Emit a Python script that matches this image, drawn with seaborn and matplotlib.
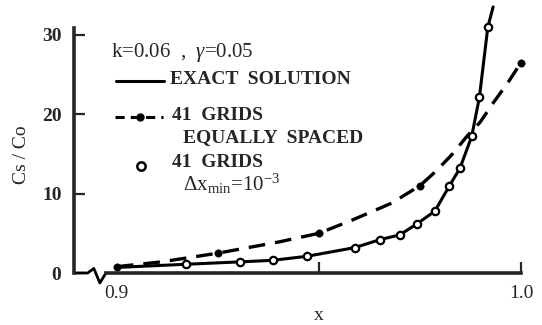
import numpy as np
import pandas as pd
import matplotlib
matplotlib.use("Agg")
import matplotlib.pyplot as plt
import matplotlib.transforms as mtransforms
from matplotlib.lines import Line2D
import seaborn as sns

# exact solution curve
exact_x = [0.900, 0.9171, 0.9304, 0.9386, 0.9470, 0.9589, 0.9651, 0.9700,
           0.9743, 0.9787, 0.9822, 0.9849, 0.9878, 0.9897, 0.9918, 0.9931]
exact_y = [0.7, 1.1, 1.4, 1.6, 2.1, 3.2, 4.2, 4.8,
           6.2, 7.8, 10.9, 13.2, 17.2, 22.1, 31.0, 33.5]

# 41 grids, equally spaced (dashed curve + marked points)
equal_x = [0.900, 0.911, 0.925, 0.940, 0.950, 0.9584, 0.968, 0.975,
           0.9787, 0.9829, 0.9866, 0.9899, 0.9931, 0.9968, 1.000]
equal_y = [0.8, 1.4, 2.5, 3.9, 5.0, 6.7, 8.8, 11.0,
           12.7, 14.9, 17.2, 19.0, 21.4, 24.0, 26.5]
equal_pts_x = [0.900, 0.925, 0.950, 0.975, 1.000]
equal_pts_y = [0.8, 2.5, 5.0, 11.0, 26.5]

# 41 grids, stretched (open circles)
stretch_x = [0.9171, 0.9304, 0.9386, 0.9470, 0.9589, 0.9651, 0.9700,
             0.9743, 0.9787, 0.9822, 0.9849, 0.9878, 0.9897, 0.9918]
stretch_y = [1.1, 1.4, 1.6, 2.1, 3.2, 4.2, 4.8,
             6.2, 7.8, 10.9, 13.2, 17.2, 22.1, 31.0]

y_ticks = [0, 10, 20, 30]
x_ticks = [0.9, 0.95, 1.0]
x_ticklabels = ["0.9", "", "1.0"]

sns.set_style("ticks")
plt.rcParams["font.family"] = ["Liberation Serif", "DejaVu Serif"]
plt.rcParams["mathtext.fontset"] = "custom"
plt.rcParams["mathtext.rm"] = "Liberation Serif"
plt.rcParams["mathtext.it"] = "Liberation Serif:italic"

W, H = 542, 325
fig = plt.figure(figsize=(W / 100, H / 100), dpi=100)


def fp(x, y):
    return x / W, 1 - y / H


ax = fig.add_axes([74 / W, 1 - 273 / H, (521 - 74) / W, 270 / H])

exact = pd.DataFrame({"x": exact_x, "y": exact_y})
equal = pd.DataFrame({"x": equal_x, "y": equal_y})
equal_pts = pd.DataFrame({"x": equal_pts_x, "y": equal_pts_y})
stretch = pd.DataFrame({"x": stretch_x, "y": stretch_y})

sns.lineplot(data=exact, x="x", y="y", ax=ax, color="black", lw=2.2,
             sort=False, estimator=None, clip_on=False, zorder=3)
sns.lineplot(data=equal, x="x", y="y", ax=ax, color="black", lw=2.4,
             sort=False, estimator=None, linestyle=(0, (5, 3)), zorder=2)
sns.scatterplot(data=equal_pts, x="x", y="y", ax=ax, color="black", s=28,
                edgecolor="black", zorder=4, clip_on=False)
sns.scatterplot(data=stretch, x="x", y="y", ax=ax, color="white", s=28,
                edgecolor="black", linewidth=1.6, zorder=5, clip_on=False)

ax.set_xlim(0.8894, 1.0)
ax.set_ylim(0, 34)
ax.set_xticks(x_ticks)
ax.set_xticklabels(x_ticklabels)
ax.set_yticks(y_ticks)
ax.tick_params(direction="in", length=8, width=1.6, labelsize=14, pad=9)
for lab in ax.get_yticklabels():
    lab.set_fontweight("bold")
ax.xaxis.get_major_ticks()[0].tick1line.set_visible(False)

sns.despine(ax=ax)
ax.spines["left"].set_linewidth(2.6)
ax.spines["bottom"].set_linewidth(2.6)
ax.spines["left"].set_bounds(0, 30.9)
ax.spines["bottom"].set_bounds(0.8973, 1.0)
ax.set_xlabel("")
ax.set_ylabel("")

# axis break zigzag
trans = mtransforms.blended_transform_factory(ax.transData, ax.transAxes)
ax.add_line(Line2D([0.8894, 0.8928, 0.8943, 0.8958, 0.8973],
                   [0, 0, 0.017, -0.037, 0], transform=trans,
                   color="black", lw=2.0, clip_on=False))

fig.text(*fp(319, 316), "x", ha="center", va="center", fontsize=14)
fig.text(*fp(22, 155), "Cs / Co", ha="center", va="center",
         rotation=90, fontsize=14)

# legend block
fig.text(*fp(111, 53), "k=0.06  ,  $\\gamma$=0.05", ha="left", va="center",
         fontsize=15)
fig.add_artist(Line2D([116 / W, 164 / W], [fp(0, 81)[1]] * 2,
                      color="black", lw=2.2))
fig.text(*fp(170, 80), "EXACT  SOLUTION", ha="left", va="center",
         fontsize=14, fontweight="bold")
fig.add_artist(Line2D([115 / W, 163 / W], [fp(0, 117)[1]] * 2,
                      color="black", lw=2.2, linestyle=(0, (3, 2))))
fig.add_artist(Line2D([140 / W], [fp(0, 117)[1]], color="black",
                      marker="o", ms=5))
fig.text(*fp(172, 116), "41  GRIDS", ha="left", va="center",
         fontsize=14, fontweight="bold")
fig.text(*fp(183, 138), "EQUALLY  SPACED", ha="left", va="center",
         fontsize=14, fontweight="bold")
fig.add_artist(Line2D([141 / W], [fp(0, 166)[1]], color="black",
                      marker="o", ms=6, mfc="white", mew=1.8))
fig.text(*fp(172, 163), "41  GRIDS", ha="left", va="center",
         fontsize=14, fontweight="bold")
fig.text(*fp(183, 184), "$\\Delta$x$_{\\rm min}$=10$^{-3}$", ha="left",
         va="center", fontsize=15)

fig.savefig("out.png", dpi=100)
